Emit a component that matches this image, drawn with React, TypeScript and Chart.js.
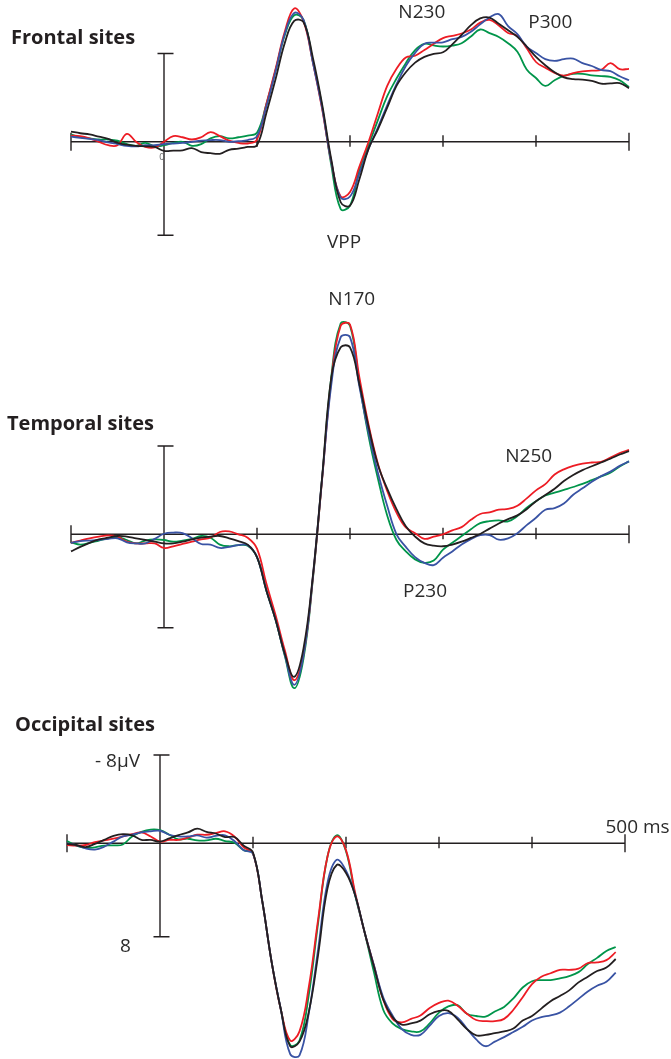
import React, { useEffect, useRef } from "react";
import { Chart, registerables } from "chart.js";

Chart.register(...registerables);

// ---------- time axis (ms) ----------
const timesMs = [
  -100, -90, -80, -70, -60, -50, -40, -30, -20, -10, 0, 10, 20, 30, 40, 50, 60, 70, 80, 90, 100,
  110, 120, 130, 140, 150, 160, 170, 180, 190, 200, 210, 220, 230, 240, 250, 260, 270, 280, 290, 300,
  310, 320, 330, 340, 350, 360, 370, 380, 390, 400, 410, 420, 430, 440, 450, 460, 470, 480, 490, 500,
];
const timeTicks = [-100, 0, 100, 200, 300, 400, 500];
const scaleBarUv = [-7.75, 8.2]; // the drawn ±8 µV bar

// ---------- Frontal sites (µV, negative up) ----------
const frontalBlack = [
  -0.9, -0.75, -0.65, -0.45, -0.25, 0.1, 0.25, 0.35, 0.4, 0.45, 0.8, 0.78, 0.75, 0.55, 0.9, 1.0, 1.05, 0.7, 0.6, 0.45, 0.3,
  -2.5, -5.5, -8.7, -10.6, -10.5, -7.4, -3.3, 1.6, 5.3, 5.6, 3.3,
  0.6, -1.1, -3.0, -4.9, -6.1, -6.95, -7.45, -7.72, -7.85, -8.55, -9.37, -10.23, -10.82, -10.9, -10.35, -9.78, -9.2, -8.36,
  -7.45, -6.72, -6.1, -5.65, -5.5, -5.45, -5.35, -5.1, -5.12, -5.15, -4.7,
];
const frontalRed = [
  -0.55, -0.5, -0.3, 0.0, 0.3, 0.3, -0.7, 0.0, 0.45, 0.5, 0.0, -0.5, -0.4, -0.2, -0.4, -0.85, -0.5, -0.1, 0.1, 0.15, -0.2,
  -3.3, -6.4, -9.7, -11.7, -10.6, -7.0, -2.9, 1.8, 4.8, 4.4, 2.2,
  0.0, -2.5, -4.9, -6.4, -7.4, -7.55, -8.05, -8.6, -9.1, -9.3, -9.5, -9.85, -10.45, -10.7, -10.2, -9.55, -9.3, -8.2,
  -7.0, -6.5, -6.05, -5.8, -6.03, -6.17, -6.24, -6.31, -6.9, -6.37, -6.4,
];
const frontalBlue = [
  -0.45, -0.35, -0.25, -0.15, 0.05, 0.2, 0.35, 0.4, 0.3, 0.3, 0.2, 0.15, 0.1, 0.0, -0.1, -0.15, -0.15, 0.0, -0.05, -0.15, -0.5,
  -3.1, -6.2, -9.5, -11.3, -10.7, -7.0, -3.0, 1.8, 4.9, 4.8, 2.8,
  0.6, -1.25, -3.2, -5.05, -6.65, -7.8, -8.6, -8.7, -8.72, -9.0, -9.2, -9.65, -10.3, -10.9, -11.2, -10.15, -9.45, -8.35,
  -7.8, -7.25, -7.1, -7.25, -7.3, -6.9, -6.65, -6.3, -6.2, -5.75, -5.4,
];
const frontalGreen = [
  -0.65, -0.4, -0.3, -0.2, -0.2, -0.1, 0.2, 0.35, 0.1, 0.4, 0.3, 0.1, 0.0, 0.35, 0.2, -0.3, -0.5, -0.3, -0.4, -0.55, -0.8,
  -3.3, -6.3, -9.4, -11.1, -10.7, -7.1, -3.1, 2.1, 5.9, 5.6, 2.5,
  0.3, -1.9, -4.0, -5.55, -6.9, -8.05, -8.6, -8.45, -8.36, -8.44, -8.65, -9.24, -9.85, -9.53, -9.2, -8.65, -7.9, -6.35,
  -5.6, -4.9, -5.4, -5.78, -5.96, -5.96, -5.83, -5.76, -5.7, -5.4, -4.8,
];

// ---------- Temporal sites ----------
const temporalBlack = [
  1.5, 1.1, 0.75, 0.45, 0.3, 0.15, 0.2, 0.35, 0.5, 0.65, 0.8, 0.8, 0.65, 0.45, 0.3, 0.2, 0.15, 0.35, 0.6, 0.9, 2.0,
  4.9, 7.5, 10.5, 12.5, 10.0, 3.7, -5.0, -13.8, -16.4, -16.4, -13.2,
  -9.4, -6.1, -4.0, -2.2, -0.7, 0.2, 0.8, 1.0, 1.05, 0.9, 0.65, 0.32, -0.03, -0.5, -0.95, -1.33, -1.66, -2.2,
  -2.9, -3.45, -4.0, -4.67, -5.2, -5.63, -5.97, -6.3, -6.63, -7.0, -7.3,
];
const temporalRed = [
  0.75, 0.55, 0.35, 0.2, 0.1, 0.2, 0.65, 0.8, 0.8, 0.8, 1.2, 1.05, 0.85, 0.65, 0.45, 0.3, -0.2, -0.25, 0.0, 0.3, 1.25,
  4.3, 7.1, 10.2, 12.8, 10.5, 3.9, -4.8, -13.6, -18.3, -18.4, -13.8,
  -9.6, -6.2, -3.8, -1.9, -0.6, -0.1, 0.4, 0.2, 0.0, -0.35, -0.63, -1.27, -1.78, -1.92, -2.17, -2.22, -2.5, -3.15,
  -3.85, -4.4, -5.25, -5.7, -6.0, -6.2, -6.3, -6.35, -6.73, -7.13, -7.4,
];
const temporalBlue = [
  0.75, 0.6, 0.55, 0.5, 0.4, 0.35, 0.7, 0.8, 0.8, 0.4, -0.05, -0.15, -0.1, 0.35, 0.85, 0.9, 1.2, 1.1, 0.95, 0.95, 2.0,
  4.9, 7.5, 10.6, 13.2, 10.6, 3.8, -4.9, -13.2, -17.3, -17.3, -13.0,
  -8.9, -5.4, -2.5, 0.0, 1.1, 2.0, 2.5, 2.7, 2.05, 1.5, 0.9, 0.42, 0.08, 0.07, 0.47, 0.35, -0.1, -0.8,
  -1.45, -2.15, -2.3, -2.7, -3.47, -4.03, -4.6, -5.1, -5.5, -6.0, -6.4,
];
const temporalGreen = [
  0.7, 0.9, 0.75, 0.55, 0.35, 0.25, 0.5, 0.8, 0.55, 0.45, 0.5, 0.65, 0.55, 0.4, 0.15, 0.3, 0.9, 1.05, 0.95, 1.0, 2.0,
  4.9, 7.5, 10.7, 13.5, 10.9, 4.0, -4.9, -13.9, -18.5, -18.3, -13.3,
  -8.6, -4.9, -1.65, 0.5, 1.5, 2.2, 2.5, 2.3, 1.35, 0.75, 0.15, -0.45, -0.98, -1.15, -1.22, -1.14, -1.6, -2.33,
  -2.9, -3.4, -3.65, -3.9, -4.15, -4.42, -4.75, -5.08, -5.4, -5.95, -6.4,
];

// ---------- Occipital sites (ends at 490 ms) ----------
const occipitalBlack = [
  0.05, 0.15, 0.33, 0.05, -0.3, -0.65, -0.8, -0.7, -0.3, -0.3, -0.15, -0.43, -0.72, -0.95, -1.28, -1.0, -0.86, -0.55, -0.55, 0.2, 0.8,
  5.1, 10.4, 14.6, 17.8, 17.4, 14.8, 9.8, 4.0, 1.9, 2.6, 4.6,
  7.8, 10.8, 13.7, 15.25, 15.9, 15.8, 15.55, 15.0, 14.7, 14.7, 15.45, 16.3, 16.85, 16.8, 16.65, 16.5, 16.25, 15.55,
  15.15, 14.5, 13.85, 13.4, 12.9, 12.2, 11.7, 11.2, 10.9, 10.15,
];
const occipitalRed = [
  0.15, 0.2, 0.15, -0.1, -0.25, -0.4, -0.6, -0.8, -0.95, -0.6, -0.15, -0.3, -0.3, -0.5, -0.75, -0.75, -0.9, -1.05, -0.6, 0.35, 0.9,
  5.1, 10.4, 14.6, 17.3, 16.5, 12.6, 6.7, 1.2, -0.6, 0.6, 4.4,
  7.8, 10.7, 13.7, 15.4, 15.7, 15.4, 15.1, 14.45, 14.0, 13.8, 14.25, 14.95, 15.5, 15.6, 15.6, 15.4, 14.6, 13.5,
  12.35, 11.7, 11.4, 11.1, 11.1, 11.0, 10.5, 10.45, 10.25, 9.55,
];
const occipitalBlue = [
  0.0, 0.15, 0.45, 0.55, 0.3, -0.15, -0.6, -0.75, -0.95, -1.05, -1.1, -0.75, -0.6, -0.6, -0.7, -0.5, -0.65, -0.7, -0.2, 0.6, 0.9,
  5.1, 10.4, 14.6, 18.5, 18.6, 14.9, 9.3, 3.5, 1.45, 2.4, 4.6,
  7.8, 10.7, 13.5, 15.1, 16.3, 16.8, 16.8, 16.0, 15.15, 14.9, 15.3, 16.25, 17.2, 17.8, 17.4, 17.0, 16.55, 16.1,
  15.55, 15.25, 15.1, 14.85, 14.3, 13.65, 13.0, 12.5, 12.15, 11.35,
];
const occipitalGreen = [
  -0.2, 0.2, 0.4, 0.35, 0.2, 0.18, 0.1, -0.6, -1.0, -1.2, -1.15, -0.75, -0.35, -0.4, -0.25, -0.25, -0.4, -0.2, -0.05, 0.6, 0.9,
  5.1, 10.4, 14.6, 17.7, 17.3, 13.3, 7.0, 1.2, -0.7, 0.7, 4.6,
  7.8, 11.3, 14.6, 15.8, 16.3, 16.5, 16.5, 15.8, 14.85, 14.3, 14.2, 14.95, 15.15, 15.2, 14.75, 14.35, 13.6, 12.65,
  12.1, 12.0, 12.0, 11.85, 11.65, 11.3, 10.6, 10.05, 9.45, 9.1,
];

// ---------- text ----------
const panelTitles = ["Frontal sites", "Temporal sites", "Occipital sites"];
const frontalLabels = [
  { text: "N230", t: 252, v: -10.9, align: "left" },
  { text: "P300", t: 391.7, v: -9.97, align: "left" },
  { text: "VPP", t: 175.3, v: 9.3, align: "left" },
];
const temporalLabels = [
  { text: "N170", t: 176.7, v: -20.1, align: "left" },
  { text: "N250", t: 367, v: -6.37, align: "left" },
  { text: "P230", t: 257, v: 5.47, align: "left" },
];
const occipitalLabels = [
  { text: "- 8µV", t: -21.5, v: -6.72, align: "right" },
  { text: "8", t: -31.2, v: 9.5, align: "right" },
  { text: "500 ms", t: 479, v: -0.88, align: "left" },
];
const zeroLabel = { text: "0", t: -2.4, v: 1.64 };

// ---------- style / layout ----------
const W = 671;
const H = 1059;
const PX_PER_UV = 11.4;
const COLORS = { black: "#231f20", red: "#ed1c24", blue: "#3953a4", green: "#00954a" };
const AXIS_COLOR = "#231f20";
const FONT = "'Open Sans', 'Liberation Sans', sans-serif";

type Panel = {
  title: string;
  titleX: number;
  titleY: number;
  baselinePx: number;
  xAxis: string;
  yAxis: string;
  black: number[];
  red: number[];
  blue: number[];
  green: number[];
  labels: { text: string; t: number; v: number; align: string }[];
};

const panels: Panel[] = [
  { title: panelTitles[0], titleX: 11, titleY: 44, baselinePx: 141.8, xAxis: "x", yAxis: "yF",
    black: frontalBlack, red: frontalRed, blue: frontalBlue, green: frontalGreen, labels: frontalLabels },
  { title: panelTitles[1], titleX: 7, titleY: 430, baselinePx: 534.3, xAxis: "x", yAxis: "yT",
    black: temporalBlack, red: temporalRed, blue: temporalBlue, green: temporalGreen, labels: temporalLabels },
  { title: panelTitles[2], titleX: 15, titleY: 731, baselinePx: 843.3, xAxis: "xO", yAxis: "yO",
    black: occipitalBlack, red: occipitalRed, blue: occipitalBlue, green: occipitalGreen, labels: occipitalLabels },
];

const yScale = (baselinePx: number) => {
  const min = -baselinePx / PX_PER_UV;
  return { type: "linear", display: false, reverse: true, min, max: min + H / PX_PER_UV };
};

const toPoints = (vals: number[]) => vals.map((v, i) => ({ x: timesMs[i], y: v }));

const erpAxesPlugin = {
  id: "erpAxes",
  beforeDatasetsDraw(chart: any) {
    const ctx = chart.ctx;
    ctx.save();
    ctx.strokeStyle = AXIS_COLOR;
    ctx.lineWidth = 1.4;
    ctx.lineCap = "butt";
    for (const p of panels) {
      const xs = chart.scales[p.xAxis];
      const ys = chart.scales[p.yAxis];
      const y0 = ys.getPixelForValue(0);
      const first = timeTicks[0];
      const last = timeTicks[timeTicks.length - 1];
      ctx.beginPath();
      ctx.moveTo(xs.getPixelForValue(first), y0);
      ctx.lineTo(xs.getPixelForValue(last), y0);
      for (const t of timeTicks) {
        if (t === 0) continue;
        const x = xs.getPixelForValue(t);
        const end = t === first || t === last;
        ctx.moveTo(x, y0 - (end ? 9 : 6.5));
        ctx.lineTo(x, y0 + (end ? 9 : 5));
      }
      const xb = xs.getPixelForValue(0);
      const yt = ys.getPixelForValue(scaleBarUv[0]);
      const yb = ys.getPixelForValue(scaleBarUv[1]);
      ctx.moveTo(xb, yt);
      ctx.lineTo(xb, yb);
      ctx.moveTo(xb - 6.5, yt);
      ctx.lineTo(xb + 9.5, yt);
      ctx.moveTo(xb - 6.5, yb);
      ctx.lineTo(xb + 9.5, yb);
      ctx.stroke();
    }
    ctx.restore();
  },
  afterDatasetsDraw(chart: any) {
    const ctx = chart.ctx;
    ctx.save();
    ctx.textBaseline = "alphabetic";
    for (const p of panels) {
      const xs = chart.scales[p.xAxis];
      const ys = chart.scales[p.yAxis];
      ctx.fillStyle = "#231f20";
      ctx.font = `bold 20px ${FONT}`;
      ctx.textAlign = "left";
      ctx.fillText(p.title, p.titleX, p.titleY);
      ctx.font = `19px ${FONT}`;
      ctx.fillStyle = "#2b2b2b";
      for (const l of p.labels) {
        ctx.textAlign = l.align as CanvasTextAlign;
        ctx.fillText(l.text, xs.getPixelForValue(l.t), ys.getPixelForValue(l.v));
      }
    }
    const xs = chart.scales["x"];
    const ys = chart.scales["yF"];
    ctx.font = `9px ${FONT}`;
    ctx.fillStyle = "#666666";
    ctx.textAlign = "center";
    ctx.fillText(zeroLabel.text, xs.getPixelForValue(zeroLabel.t), ys.getPixelForValue(zeroLabel.v));
    ctx.restore();
  },
};

export default function App() {
  const ref = useRef<HTMLCanvasElement | null>(null);

  useEffect(() => {
    if (!ref.current) return;
    const datasets: any[] = [];
    for (const p of panels) {
      const order: [string, number[]][] = [
        [COLORS.black, p.black],
        [COLORS.blue, p.blue],
        [COLORS.red, p.red],
        [COLORS.green, p.green],
      ];
      for (const [color, vals] of order) {
        datasets.push({
          data: toPoints(vals),
          xAxisID: p.xAxis,
          yAxisID: p.yAxis,
          borderColor: color,
          borderWidth: 1.8,
          pointRadius: 0,
          tension: 0.4,
          fill: false,
          clip: false,
        });
      }
    }
    const chart = new Chart(ref.current, {
      type: "line",
      data: { datasets },
      options: {
        animation: false,
        responsive: false,
        devicePixelRatio: 1,
        events: [],
        layout: { padding: { left: 71, right: 42, top: 0, bottom: 0 } },
        plugins: { legend: { display: false }, tooltip: { enabled: false }, title: { display: false } },
        scales: {
          x: { type: "linear", display: false, min: -100, max: 500 },
          xO: { type: "linear", display: false, min: -95.7, max: 504.3 },
          yF: yScale(panels[0].baselinePx),
          yT: yScale(panels[1].baselinePx),
          yO: yScale(panels[2].baselinePx),
        } as any,
      },
      plugins: [erpAxesPlugin],
    });
    return () => chart.destroy();
  }, []);

  return (
    <div style={{ position: "absolute", left: 0, top: 0, width: W, height: H, background: "#fff" }}>
      <canvas ref={ref} width={W} height={H} style={{ display: "block", width: W, height: H }} />
    </div>
  );
}
